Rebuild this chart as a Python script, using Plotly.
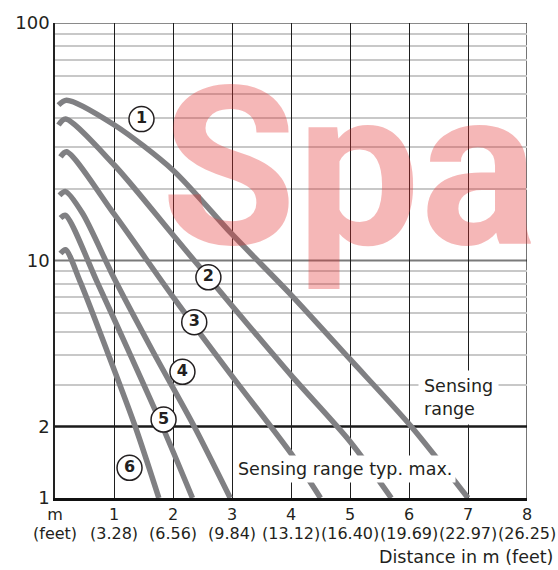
import math
import plotly.graph_objects as go

# ---- data ----
distance_m = [0, 1, 2, 3, 4, 5, 6, 7, 8]
distance_m_labels = ["m", "1", "2", "3", "4", "5", "6", "7", "8"]
distance_ft_labels = ["(feet)", "(3.28)", "(6.56)", "(9.84)", "(13.12)", "(16.40)",
                      "(19.69)", "(22.97)", "(26.25)"]
y_ticks = [1, 2, 10, 100]
y_tick_labels = ["1", "2", "10", "100"]
y_minor = [3, 4, 5, 6, 7, 8, 9, 20, 30, 40, 50, 60, 70, 80, 90]

curve1_x = [0.059, 0.195, 1.0, 2.0, 3.0, 4.0, 5.0, 6.03, 7.0]
curve1_y = [45.1, 47.3, 37.3, 24.0, 12.9, 7.17, 3.84, 2.01, 1.0]
curve2_x = [0.059, 0.178, 1.0, 2.0, 3.0, 4.0, 5.0, 5.7]
curve2_y = [37.2, 39.4, 25.3, 12.8, 6.45, 3.29, 1.73, 1.0]
curve3_x = [0.093, 0.195, 1.0, 2.0, 3.0, 4.0, 4.5]
curve3_y = [27.3, 28.7, 15.7, 7.03, 3.26, 1.54, 1.0]
curve4_x = [0.076, 0.178, 0.466, 1.0, 1.66, 2.36, 2.97]
curve4_y = [18.8, 19.5, 15.8, 8.44, 4.14, 2.0, 1.0]
curve5_x = [0.093, 0.178, 0.715, 1.25, 1.82, 2.33]
curve5_y = [15.1, 15.5, 8.11, 4.14, 2.0, 1.0]
curve6_x = [0.093, 0.178, 0.43, 0.885, 1.36, 1.76]
curve6_y = [10.7, 11.1, 8.11, 4.14, 2.0, 1.0]
curve_numbers = ["1", "2", "3", "4", "5", "6"]

curves = [(curve1_x, curve1_y), (curve2_x, curve2_y), (curve3_x, curve3_y),
          (curve4_x, curve4_y), (curve5_x, curve5_y), (curve6_x, curve6_y)]

TEXT = "#231f20"
FONT = "DejaVu Sans"

fig = go.Figure()
for (cx, cy), num in zip(curves, curve_numbers):
    fig.add_trace(go.Scatter(
        x=cx, y=cy, mode="lines", name=num,
        line=dict(color="#808083", width=5.5, shape="spline", smoothing=0.8),
        hoverinfo="skip", showlegend=False,
    ))

# circled curve labels
label_x = [1.466, 2.60, 2.36, 2.16, 1.84, 1.263]
label_y = [39.4, 8.5, 5.5, 3.4, 2.14, 1.34]
fig.add_trace(go.Scatter(
    x=label_x, y=label_y, mode="markers+text", text=curve_numbers,
    textposition="middle center",
    textfont=dict(family=FONT, size=16, color=TEXT, weight=700),
    marker=dict(size=25, color="white", line=dict(color=TEXT, width=1.5)),
    hoverinfo="skip", showlegend=False, cliponaxis=False,
))

# reference lines
fig.add_hline(y=10, line=dict(color="#7a7a7a", width=2), layer="below")
fig.add_hline(y=2, line=dict(color="#1a1a1a", width=2.5), layer="below")
fig.add_hline(y=100, line=dict(color="#8a8a8a", width=2), layer="below")
fig.add_vline(x=8, line=dict(color="#1a1a1a", width=1.2), layer="below")

annotations = []
# watermark
annotations.append(dict(
    text="Spa", xref="paper", yref="paper", x=(159 - 55) / 472, y=(497.7 - 166) / 479,
    xanchor="left", yanchor="middle", showarrow=False,
    font=dict(family="Roboto", size=220, color="rgba(225,50,50,0.35)", weight=700),
))

# feet labels under the meter ticks
for xm, ft in zip(distance_m, distance_ft_labels):
    annotations.append(dict(
        text=ft, x=xm, xref="x", yref="paper", y=-(533.5 - 497.7) / 479,
        xanchor="center", yanchor="middle", showarrow=False,
        font=dict(family=FONT, size=16, color=TEXT),
    ))

annotations.append(dict(
    text="Sensing<br>range", x=6.16, y=math.log10(2.66), xref="x", yref="y",
    xanchor="left", yanchor="middle", align="left", showarrow=False,
    font=dict(family=FONT, size=17.5, color=TEXT), bgcolor="white", borderpad=5,
))
annotations.append(dict(
    text="Sensing range typ. max.", x=3.04, y=math.log10(1.33), xref="x", yref="y",
    xanchor="left", yanchor="middle", showarrow=False,
    font=dict(family=FONT, size=17.5, color=TEXT), bgcolor="white", borderpad=3,
))
annotations.append(dict(
    text="Distance in m (feet)", xref="paper", yref="paper", x=1 + 28 / 472,
    y=-(557 - 497.7) / 479, xanchor="right", yanchor="middle", showarrow=False,
    font=dict(family=FONT, size=17.5, color=TEXT),
))

fig.update_layout(
    width=558, height=570,
    margin=dict(l=55, r=31, t=19, b=72, pad=0),
    plot_bgcolor="white", paper_bgcolor="white",
    font=dict(family=FONT, color=TEXT),
    annotations=annotations,
    xaxis=dict(
        range=[0, 8], tickvals=distance_m, ticktext=distance_m_labels,
        showgrid=True, gridcolor="#1e1e1e", gridwidth=1,
        showline=True, linecolor="#111111", linewidth=3,
        zeroline=False, ticks="", tickfont=dict(family=FONT, size=16, color=TEXT),
    ),
    yaxis=dict(
        type="log", range=[0, 2], tickvals=y_ticks, ticktext=y_tick_labels,
        showgrid=False,
        minor=dict(tickvals=y_minor, showgrid=True, gridcolor="#c8c8c8", gridwidth=1.5, ticks=""),
        showline=True, linecolor="#222222", linewidth=1.5,
        zeroline=False, ticks="", tickfont=dict(family=FONT, size=18, color=TEXT),
    ),
)

post = ("document.body.style.margin='0px';document.body.style.overflow='hidden';"
        "Plotly.relayout(document.getElementById('{plot_id}'),{width:558,height:570});")
fig.write_html("out.html", post_script=post, config={"displayModeBar": False})
